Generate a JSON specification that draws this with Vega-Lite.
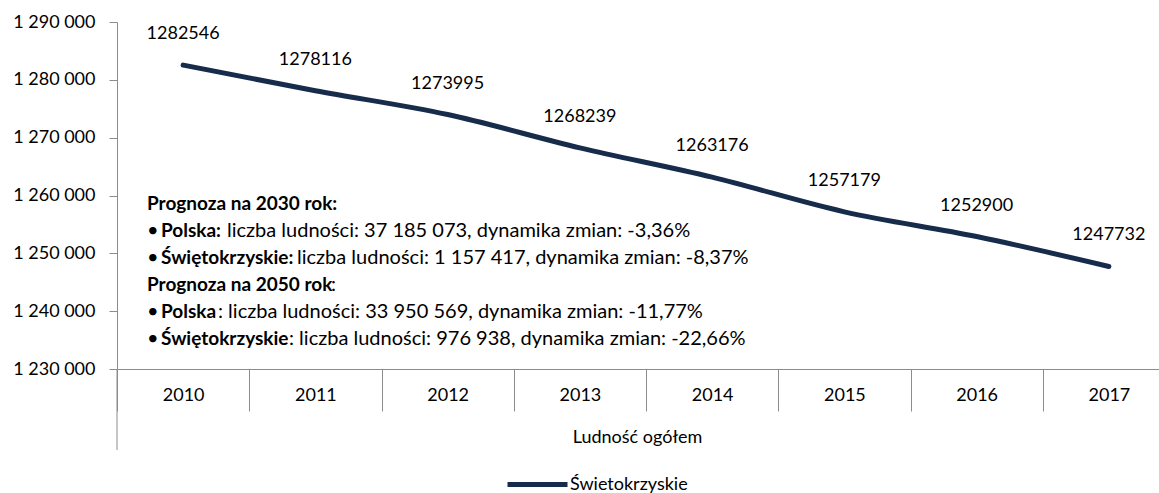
{
  "$schema": "https://vega.github.io/schema/vega-lite/v6.json",
  "width": 1040,
  "height": 347,
  "autosize": "none",
  "padding": {"left": 117, "top": 22, "right": 2, "bottom": 124},
  "config": {
    "locale": {"number": {"decimal": ",", "thousands": " ", "grouping": [3], "currency": ["", " zł"]}},
    "font": "Lato",
    "view": {"stroke": null},
    "axis": {"domainColor": "#8c8c8c", "tickColor": "#8c8c8c", "labelColor": "#000000", "titleColor": "#000000", "labelFont": "Lato", "titleFont": "Lato", "grid": false},
    "legend": {"labelFont": "Lato"}
  },
  "data": {
    "values": [
      {"year": "2010", "value": 1282546, "series": "Świetokrzyskie"},
      {"year": "2011", "value": 1278116, "series": "Świetokrzyskie"},
      {"year": "2012", "value": 1273995, "series": "Świetokrzyskie"},
      {"year": "2013", "value": 1268239, "series": "Świetokrzyskie"},
      {"year": "2014", "value": 1263176, "series": "Świetokrzyskie"},
      {"year": "2015", "value": 1257179, "series": "Świetokrzyskie"},
      {"year": "2016", "value": 1252900, "series": "Świetokrzyskie"},
      {"year": "2017", "value": 1247732, "series": "Świetokrzyskie"}
    ]
  },
  "encoding": {
    "x": {
      "field": "year", "type": "nominal",
      "scale": {"type": "band", "paddingInner": 0, "paddingOuter": 0, "range": [0, 1058]},
      "axis": {"title": "Ludność ogółem", "labelAngle": 0, "tickBand": "extent", "tickSize": 42, "labelPadding": -25, "labelFontSize": 18, "titleFontSize": 18, "titleFontWeight": "normal", "titlePadding": 17, "titleX": 520}
    },
    "y": {
      "field": "value", "type": "quantitative",
      "scale": {"domain": [1230000, 1290000], "nice": false, "zero": false},
      "axis": {"title": null, "values": [1230000, 1240000, 1250000, 1260000, 1270000, 1280000, 1290000], "format": ",d", "tickSize": 8, "labelPadding": 14, "labelFontSize": 18}
    }
  },
  "layer": [
    {
      "mark": {"type": "line", "strokeWidth": 5, "strokeCap": "round", "interpolate": "monotone"},
      "encoding": {
        "color": {"field": "series", "type": "nominal", "scale": {"range": ["#172b4b"]},
          "legend": {"title": null, "orient": "none", "legendX": 388, "legendY": 430, "direction": "horizontal", "symbolType": "stroke", "symbolStrokeWidth": 5, "symbolSize": 3600, "labelFontSize": 18, "labelOffset": 0}}
      }
    },
    {
      "mark": {"type": "text", "dy": -31, "fontSize": 18, "color": "#000000"},
      "encoding": {"text": {"field": "value", "type": "quantitative", "format": "d"}}
    },
    {
      "transform": [{"filter": "datum.year == '2010'"}],
      "mark": {"type": "rule", "color": "#8c8c8c"},
      "encoding": {
        "x": {"datum": "2010", "bandPosition": 0},
        "y": {"datum": 1230000},
        "y2": {"datum": 1216000}
      }
    },
    {
      "transform": [{"filter": "datum.year == '2010'"}],
      "mark": {"type": "text", "align": "left", "dx": 30, "fontSize": 19, "fontWeight": "bold", "color": "#000000"},
      "encoding": {"x": {"datum": "2010", "bandPosition": 0}, "y": {"datum": 1258526}, "text": {"value": "Prognoza na 2030 rok:"}}
    },
    {
      "transform": [{"filter": "datum.year == '2010'"}],
      "mark": {"type": "text", "align": "left", "dx": 30, "fontSize": 20, "color": "#000000"},
      "encoding": {"x": {"datum": "2010", "bandPosition": 0}, "y": {"datum": 1253857}, "text": {"value": "•"}}
    },
    {
      "transform": [{"filter": "datum.year == '2010'"}],
      "mark": {"type": "text", "align": "left", "dx": 44, "fontSize": 19, "fontWeight": "bold", "color": "#000000"},
      "encoding": {"x": {"datum": "2010", "bandPosition": 0}, "y": {"datum": 1253857}, "text": {"value": "Polska:"}}
    },
    {
      "transform": [{"filter": "datum.year == '2010'"}],
      "mark": {"type": "text", "align": "left", "dx": 110, "fontSize": 20, "color": "#000000"},
      "encoding": {"x": {"datum": "2010", "bandPosition": 0}, "y": {"datum": 1253857}, "text": {"value": "liczba ludności: 37 185 073, dynamika zmian: -3,36%"}}
    },
    {
      "transform": [{"filter": "datum.year == '2010'"}],
      "mark": {"type": "text", "align": "left", "dx": 30, "fontSize": 20, "color": "#000000"},
      "encoding": {"x": {"datum": "2010", "bandPosition": 0}, "y": {"datum": 1249189}, "text": {"value": "•"}}
    },
    {
      "transform": [{"filter": "datum.year == '2010'"}],
      "mark": {"type": "text", "align": "left", "dx": 44, "fontSize": 19, "fontWeight": "bold", "color": "#000000"},
      "encoding": {"x": {"datum": "2010", "bandPosition": 0}, "y": {"datum": 1249189}, "text": {"value": "Świętokrzyskie:"}}
    },
    {
      "transform": [{"filter": "datum.year == '2010'"}],
      "mark": {"type": "text", "align": "left", "dx": 180, "fontSize": 20, "color": "#000000"},
      "encoding": {"x": {"datum": "2010", "bandPosition": 0}, "y": {"datum": 1249189}, "text": {"value": "liczba ludności: 1 157 417, dynamika zmian: -8,37%"}}
    },
    {
      "transform": [{"filter": "datum.year == '2010'"}],
      "mark": {"type": "text", "align": "left", "dx": 30, "fontSize": 19, "fontWeight": "bold", "color": "#000000"},
      "encoding": {"x": {"datum": "2010", "bandPosition": 0}, "y": {"datum": 1244520}, "text": {"value": "Prognoza na 2050 rok"}}
    },
    {
      "transform": [{"filter": "datum.year == '2010'"}],
      "mark": {"type": "text", "align": "left", "dx": 214, "fontSize": 20, "color": "#000000"},
      "encoding": {"x": {"datum": "2010", "bandPosition": 0}, "y": {"datum": 1244520}, "text": {"value": ":"}}
    },
    {
      "transform": [{"filter": "datum.year == '2010'"}],
      "mark": {"type": "text", "align": "left", "dx": 30, "fontSize": 20, "color": "#000000"},
      "encoding": {"x": {"datum": "2010", "bandPosition": 0}, "y": {"datum": 1239852}, "text": {"value": "•"}}
    },
    {
      "transform": [{"filter": "datum.year == '2010'"}],
      "mark": {"type": "text", "align": "left", "dx": 44, "fontSize": 19, "fontWeight": "bold", "color": "#000000"},
      "encoding": {"x": {"datum": "2010", "bandPosition": 0}, "y": {"datum": 1239852}, "text": {"value": "Polska"}}
    },
    {
      "transform": [{"filter": "datum.year == '2010'"}],
      "mark": {"type": "text", "align": "left", "dx": 101, "fontSize": 20, "color": "#000000"},
      "encoding": {"x": {"datum": "2010", "bandPosition": 0}, "y": {"datum": 1239852}, "text": {"value": ": liczba ludności: 33 950 569, dynamika zmian: -11,77%"}}
    },
    {
      "transform": [{"filter": "datum.year == '2010'"}],
      "mark": {"type": "text", "align": "left", "dx": 30, "fontSize": 20, "color": "#000000"},
      "encoding": {"x": {"datum": "2010", "bandPosition": 0}, "y": {"datum": 1235183}, "text": {"value": "•"}}
    },
    {
      "transform": [{"filter": "datum.year == '2010'"}],
      "mark": {"type": "text", "align": "left", "dx": 44, "fontSize": 19, "fontWeight": "bold", "color": "#000000"},
      "encoding": {"x": {"datum": "2010", "bandPosition": 0}, "y": {"datum": 1235183}, "text": {"value": "Świętokrzyskie"}}
    },
    {
      "transform": [{"filter": "datum.year == '2010'"}],
      "mark": {"type": "text", "align": "left", "dx": 172, "fontSize": 20, "color": "#000000"},
      "encoding": {"x": {"datum": "2010", "bandPosition": 0}, "y": {"datum": 1235183}, "text": {"value": ": liczba ludności: 976 938, dynamika zmian: -22,66%"}}
    }
  ]
}
